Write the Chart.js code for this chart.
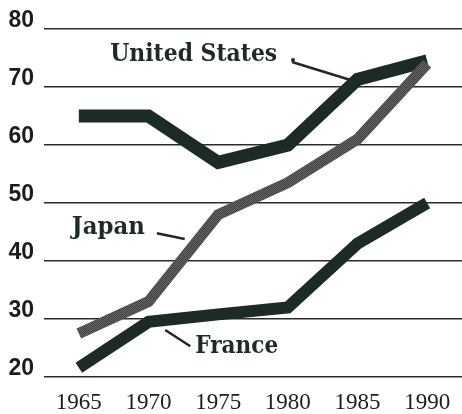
<!DOCTYPE html>
<html lang="en">
<head>
    <meta charset="UTF-8" />
    <title>Life expectancy chart</title>
    <script src="https://cdn.jsdelivr.net/npm/chart.js@4.4.0/dist/chart.umd.min.js"></script>
    <style>
        html, body { margin: 0; padding: 0; background: #fff; }
        #chart { display: block; }
    </style>
</head>
<body>
    <canvas id="chart" width="462" height="414"></canvas>

    <script>
        // Datos
        const years = ['1965', '1970', '1975', '1980', '1985', '1990'];
        const usValues = [65, 65, 57, 60, 71.3, 74.5];
        const japanValues = [27.5, 33, 48, 53.5, 61, 74];
        const franceValues = [21.6, 29.5, 30.8, 32, 43, 50];
        const yTicks = [20, 30, 40, 50, 60, 70, 80];

        const dark = '#1d2b26';

        // textura punteada para la linea de Japon
        function stipple() {
            const c = document.createElement('canvas');
            c.width = 2; c.height = 2;
            const g = c.getContext('2d');
            g.fillStyle = '#646464'; g.fillRect(0, 0, 2, 2);
            g.fillStyle = '#424242'; g.fillRect(0, 0, 1, 1); g.fillRect(1, 1, 1, 1);
            return g.createPattern(c, 'repeat');
        }

        // etiquetas con linea guia (en unidades de datos: indice de categoria, valor)
        const callouts = [
            { text: 'United States', x: 0.45, y: 74.5, w: 167, dot: true, from: [3.06, 74.3], to: [3.9, 71.2] },
            { text: 'Japan', x: -0.1, y: 44.7, w: 73, from: [1.12, 44.8], to: [1.52, 43.8] },
            { text: 'France', x: 1.67, y: 24.1, w: 83, from: [1.24, 28.1], to: [1.6, 25.3] }
        ];

        const calloutPlugin = {
            id: 'callouts',
            afterDatasetsDraw(chart) {
                const { ctx, scales: { x, y } } = chart;
                ctx.save();
                ctx.fillStyle = dark;
                ctx.strokeStyle = dark;
                callouts.forEach(c => {
                    const px = x.getPixelForValue(c.x);
                    const py = y.getPixelForValue(c.y);
                    ctx.font = 'bold 24px "DejaVu Serif"';
                    const m = ctx.measureText(c.text).width;
                    ctx.save();
                    ctx.translate(px, py);
                    ctx.scale(c.w / m, 1);
                    ctx.textBaseline = 'alphabetic';
                    ctx.fillText(c.text, 0, 0);
                    ctx.restore();

                    const x1 = x.getPixelForValue(c.from[0]), y1 = y.getPixelForValue(c.from[1]);
                    const x2 = x.getPixelForValue(c.to[0]), y2 = y.getPixelForValue(c.to[1]);
                    ctx.lineWidth = 2.5;
                    ctx.beginPath();
                    ctx.moveTo(x1, y1);
                    ctx.lineTo(x2, y2);
                    ctx.stroke();
                    if (c.dot) {
                        ctx.beginPath();
                        ctx.arc(x1 + 1, y1 - 2, 2, 0, Math.PI * 2);
                        ctx.fill();
                    }
                });
                ctx.restore();
            }
        };

        new Chart(document.getElementById('chart'), {
            type: 'line',
            data: {
                labels: years,
                datasets: [
                    {
                        label: 'Japan',
                        data: japanValues,
                        borderColor: stipple(),
                        borderWidth: 11
                    },
                    {
                        label: 'United States',
                        data: usValues,
                        borderColor: dark,
                        borderWidth: 13
                    },
                    {
                        label: 'France',
                        data: franceValues,
                        borderColor: dark,
                        borderWidth: 12
                    }
                ]
            },
            options: {
                responsive: false,
                animation: false,
                devicePixelRatio: 1,
                layout: { padding: { top: 29, right: 0, bottom: 0, left: 0 } },
                elements: {
                    point: { radius: 0 },
                    line: { tension: 0, borderCapStyle: 'butt', borderJoinStyle: 'miter', fill: false }
                },
                plugins: {
                    legend: { display: false },
                    tooltip: { enabled: false }
                },
                scales: {
                    x: {
                        offset: true,
                        grid: { display: false },
                        border: { display: false },
                        ticks: {
                            color: '#1c1c1c',
                            font: { family: '"Liberation Serif"', size: 23 },
                            padding: 4,
                            maxRotation: 0
                        },
                        afterFit(scale) { scale.height = 37; }
                    },
                    y: {
                        min: 20,
                        max: 80,
                        afterBuildTicks(scale) { scale.ticks = yTicks.map(v => ({ value: v })); },
                        grid: {
                            color: '#2b2b2b',
                            lineWidth: 1.6,
                            drawTicks: false
                        },
                        border: { display: false },
                        ticks: {
                            color: '#1c1c1c',
                            font: { family: '"Liberation Sans"', size: 23, weight: 'bold' },
                            padding: 10,
                            labelOffset: -8
                        },
                        afterFit(scale) { scale.width = 44; }
                    }
                }
            },
            plugins: [calloutPlugin]
        });
    </script>
</body>
</html>
